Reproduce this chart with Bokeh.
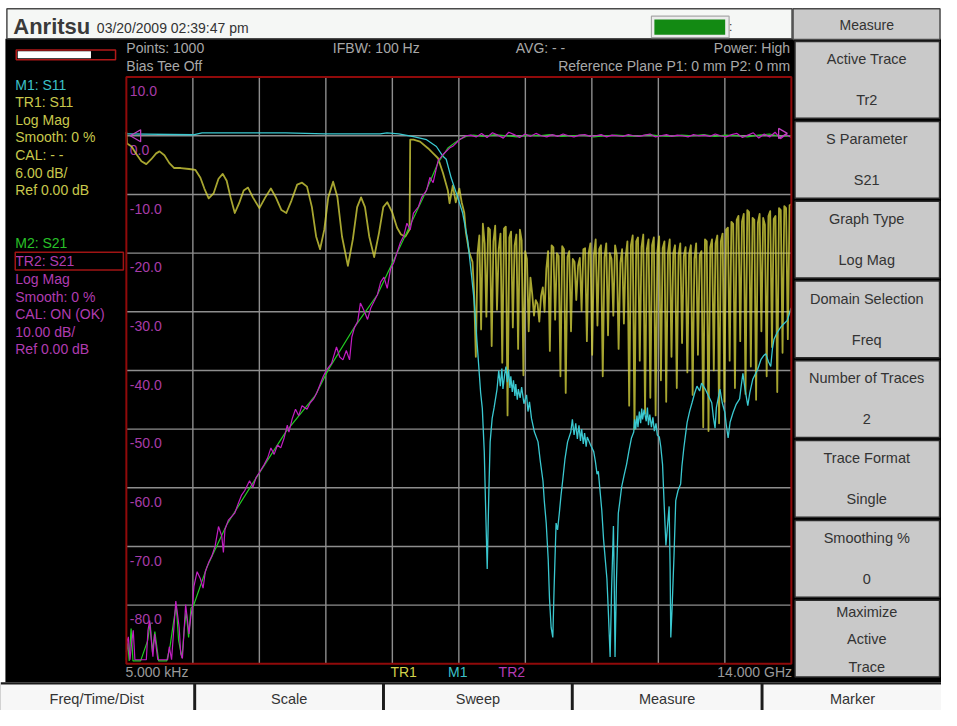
import numpy as np
from bokeh.plotting import figure
from bokeh.models import Range1d
from bokeh.core.properties import value
from bokeh.embed import file_html
from bokeh.resources import INLINE

# ---------------- sweep / scale settings ----------------
F_START_GHZ = 0.000005            # 5.000 kHz
F_STOP_GHZ = 14.0                 # 14.000 GHz
N_DIV = 10
S21_TOP_DB, S21_BOTTOM_DB = 10.0, -90.0   # TR2: 10.00 dB/div, Ref 0.00 dB
S11_TOP_DB, S11_BOTTOM_DB = 6.0, -54.0    # TR1: 6.00 dB/div, Ref 0.00 dB

y_tick_values = [10, 0, -10, -20, -30, -40, -50, -60, -70, -80]
y_tick_labels = ["10.0", "0.0", "-10.0", "-20.0", "-30.0", "-40.0", "-50.0", "-60.0", "-70.0", "-80.0"]
x_start_label = "5.000 kHz"
x_stop_label = "14.000 GHz"

# ---------------- TR1 : S11 (yellow), (GHz, dB) ----------------
tr1_pass = [
    (0.000005, 0.4), (0.014, -0.8), (0.110, -1.1), (0.213, -1.9), (0.317, -2.6), (0.420, -2.9),
    (0.524, -2.4), (0.627, -1.8), (0.698, -1.6), (0.801, -2.0), (0.905, -2.8), (1.008, -3.3),
    (1.145, -3.3), (1.319, -3.4), (1.455, -3.5), (1.559, -4.3), (1.642, -5.4), (1.733, -6.4),
    (1.836, -5.9), (1.940, -4.4), (2.029, -3.9), (2.112, -4.6), (2.194, -6.3), (2.283, -7.9),
    (2.374, -6.9), (2.470, -5.6), (2.561, -5.3), (2.664, -6.3), (2.801, -7.4), (2.925, -6.3),
    (3.043, -5.4), (3.147, -6.3), (3.265, -7.6), (3.368, -7.9), (3.478, -6.6), (3.596, -5.0),
    (3.699, -4.8), (3.803, -5.2), (3.906, -7.3), (3.995, -10.3), (4.078, -11.6), (4.167, -9.6),
    (4.250, -6.3), (4.353, -4.7), (4.444, -6.3), (4.540, -10.3), (4.664, -13.3), (4.768, -10.6),
    (4.859, -7.3), (4.941, -6.3), (5.024, -7.3), (5.113, -10.3), (5.217, -12.4), (5.320, -9.9),
    (5.409, -7.3), (5.492, -6.8), (5.595, -7.8), (5.699, -9.4), (5.782, -10.1), (5.873, -10.3),
    (5.962, -9.6), (5.976, -0.4), (6.044, -0.4), (6.183, -0.6), (6.355, -1.3), (6.459, -1.8),
    (6.562, -2.3), (6.666, -3.8), (6.769, -5.6), (6.804, -6.9), (6.873, -5.1), (6.935, -6.8),
    (7.011, -5.4), (7.059, -6.8), (7.115, -7.9), (7.148, -9.9), (7.218, -11.9), (7.287, -12.9),
]
# stop band on the sweep grid from 7.32 GHz to 14 GHz: (shoulder, dip, shoulder) per ripple
TR1_STOP_F_FIRST, TR1_STOP_F_LAST = 7.32, 14.0
tr1_stop_db = [
    -15.9, -22.6, -12.0, -10.2, -19.8, -9.0, -11.0, -18.5, -9.4, -9.6, -21.5, -10.8,
    -9.2, -17.8, -11.6, -10.0, -23.2, -9.5, -9.3, -28.6, -10.4, -9.8, -19.6, -11.2,
    -10.1, -21.8, -9.6, -10.7, -24.5, -11.8, -12.6, -20.0, -14.5, -16.2, -18.4, -16.8,
    -17.2, -19.0, -16.4, -15.5, -18.0, -13.6, -11.8, -22.0, -11.2, -11.4, -18.8, -12.0,
    -12.3, -24.6, -11.3, -11.6, -26.3, -12.4, -11.8, -20.0, -12.6, -12.9, -16.8, -13.3,
    -12.5, -17.9, -11.6, -11.5, -21.0, -12.0, -11.0, -22.4, -12.2, -10.6, -19.4, -11.6,
    -11.2, -24.6, -12.4, -11.0, -20.4, -12.0, -12.6, -18.4, -11.2, -12.2, -21.8, -13.0,
    -11.6, -19.2, -12.4, -10.8, -27.6, -11.2, -10.2, -30.0, -10.8, -10.4, -23.0, -11.4,
    -10.1, -28.4, -11.6, -10.6, -26.8, -11.2, -10.4, -28.6, -11.8, -10.3, -25.0, -11.5,
    -10.8, -27.2, -11.9, -10.6, -22.6, -12.0, -11.2, -25.8, -12.2, -11.0, -21.2, -12.3,
    -11.4, -24.2, -12.1, -11.2, -26.5, -12.6, -11.0, -22.4, -12.2, -11.8, -29.8, -10.6,
    -10.8, -30.2, -11.4, -10.6, -24.0, -11.0, -10.2, -29.4, -10.8, -10.0, -27.2, -9.6,
    -9.4, -23.0, -8.8, -9.0, -25.8, -8.6, -8.2, -21.0, -8.8, -8.0, -26.4, -7.6,
    -7.8, -23.6, -8.4, -8.6, -27.0, -8.9, -8.0, -20.0, -8.4, -9.1, -24.6, -8.2,
    -7.7, -21.6, -8.5, -8.2, -26.2, -7.4, -7.6, -22.2, -7.2, -7.4, -20.8, -7.1,
    -7.0,
]

# ---------------- M1 : S11 memory (cyan), (GHz, dB) ----------------
m1_points = [
    (0.000005, 0.2), (1.408, 0.1), (1.594, 0.3), (3.354, 0.3), (4.182, 0.2), (5.341, 0.2),
    (5.486, 0.3), (5.734, 0.2), (6.044, -0.1), (6.320, -0.4), (6.527, -1.1), (6.666, -2.1),
    (6.734, -2.4), (6.838, -4.3), (6.976, -6.3), (7.080, -7.9), (7.183, -10.6), (7.252, -13.6),
    (7.322, -16.9), (7.390, -21.6), (7.459, -26.3), (7.494, -27.9), (7.535, -32.3), (7.563, -37.9),
    (7.597, -44.3), (7.632, -36.3), (7.659, -31.3), (7.701, -28.9), (7.742, -27.8), (7.804, -25.9),
    (7.840, -24.0), (7.873, -25.6), (7.905, -23.8), (7.928, -25.9), (7.960, -24.6), (7.991, -23.6),
    (8.020, -25.2), (8.047, -23.9), (8.075, -25.8), (8.094, -24.6), (8.125, -26.2), (8.150, -25.0),
    (8.180, -26.6), (8.198, -25.4), (8.230, -27.0), (8.253, -25.9), (8.290, -26.8), (8.322, -25.7),
    (8.370, -27.4), (8.425, -26.5), (8.455, -28.2), (8.487, -27.2), (8.529, -28.9), (8.591, -30.3),
    (8.667, -31.3), (8.715, -33.3), (8.771, -35.3), (8.798, -37.3), (8.839, -39.6), (8.881, -43.3),
    (8.908, -47.3), (8.943, -50.3), (8.978, -51.3), (9.005, -46.3), (9.047, -39.6), (9.078, -40.3),
    (9.115, -38.6), (9.150, -36.8), (9.185, -35.3), (9.233, -33.1), (9.289, -31.3), (9.357, -30.3),
    (9.390, -29.0), (9.426, -30.6), (9.461, -29.4), (9.495, -31.0), (9.529, -29.6), (9.560, -31.2),
    (9.585, -30.0), (9.620, -31.5), (9.647, -30.4), (9.680, -31.8), (9.703, -30.8), (9.771, -31.6),
    (9.839, -32.3), (9.874, -33.3), (9.909, -34.6), (9.936, -34.3), (9.978, -36.6), (10.009, -38.3),
    (10.047, -41.3), (10.082, -43.3), (10.117, -45.3), (10.144, -48.3), (10.185, -53.3), (10.216, -46.3),
    (10.254, -39.9), (10.268, -44.3), (10.288, -53.3), (10.319, -45.3), (10.357, -38.6), (10.392, -37.3),
    (10.427, -35.9), (10.475, -34.8), (10.531, -33.6), (10.578, -32.3), (10.634, -30.9), (10.682, -30.3),
    (10.700, -29.0), (10.723, -30.0), (10.750, -28.6), (10.771, -29.8), (10.800, -28.2), (10.827, -29.4),
    (10.850, -27.9), (10.868, -29.0), (10.900, -28.0), (10.945, -29.2), (10.970, -27.8), (10.992, -29.6),
    (11.020, -28.5), (11.054, -29.8), (11.085, -28.8), (11.116, -30.2), (11.150, -29.4), (11.178, -30.6),
    (11.220, -30.8), (11.251, -31.8), (11.288, -33.6), (11.324, -37.9), (11.359, -41.9), (11.386, -40.3),
    (11.427, -37.9), (11.448, -44.3), (11.462, -51.3), (11.489, -48.3), (11.530, -42.9), (11.566, -37.3),
    (11.613, -36.3), (11.669, -35.6), (11.696, -33.8), (11.737, -31.9), (11.779, -30.3), (11.806, -29.3),
    (11.862, -28.1), (11.909, -27.3), (11.965, -26.3), (12.013, -25.6), (12.069, -26.1), (12.110, -25.3),
    (12.187, -25.9), (12.255, -26.6), (12.324, -27.3), (12.359, -28.8), (12.394, -29.9), (12.421, -27.8),
    (12.497, -25.9), (12.545, -27.3), (12.601, -28.3), (12.628, -29.5), (12.669, -30.9), (12.710, -29.3),
    (12.773, -28.3), (12.835, -27.5), (12.911, -26.9), (12.938, -25.8), (12.980, -24.3), (13.021, -25.8),
    (13.083, -27.6), (13.125, -26.3), (13.187, -24.9), (13.249, -24.3), (13.290, -23.9), (13.359, -22.9),
    (13.414, -22.5), (13.462, -22.3), (13.518, -23.1), (13.566, -23.6), (13.601, -21.8), (13.635, -20.8),
    (13.704, -20.1), (13.773, -19.6), (13.828, -19.3), (13.911, -18.9), (13.952, -18.3), (13.994, -17.6),
]

# ---------------- TR2 : S21 (magenta), (GHz, dB) ----------------
tr2_points = [
    (0.000005, -89.3), (0.020, -86.0), (0.041, -85.4), (0.077, -89.3), (0.110, -86.5), (0.145, -84.3),
    (0.180, -89.3), (0.213, -89.3), (0.284, -89.3), (0.420, -89.3), (0.455, -84.3), (0.491, -82.6),
    (0.524, -85.9), (0.559, -88.8), (0.594, -84.9), (0.662, -89.3), (0.725, -89.3), (0.869, -89.3),
    (0.905, -87.1), (0.952, -89.3), (1.041, -79.3), (1.112, -83.8), (1.145, -88.3), (1.180, -89.1),
    (1.248, -79.9), (1.319, -84.9), (1.356, -82.0), (1.387, -80.5), (1.422, -76.8), (1.490, -74.3),
    (1.559, -75.5), (1.615, -77.1), (1.662, -74.3), (1.733, -72.7), (1.801, -71.6), (1.869, -69.9),
    (1.940, -66.6), (2.008, -68.2), (2.043, -71.0), (2.076, -67.1), (2.147, -65.5), (2.215, -64.9),
    (2.283, -64.3), (2.354, -62.7), (2.422, -61.3), (2.490, -60.5), (2.594, -58.8), (2.664, -59.9),
    (2.733, -58.2), (2.801, -57.4), (2.904, -56.0), (2.975, -54.9), (3.043, -53.2), (3.111, -54.3),
    (3.182, -52.7), (3.250, -53.2), (3.318, -51.6), (3.389, -49.3), (3.422, -50.5), (3.492, -48.2),
    (3.561, -46.6), (3.629, -47.7), (3.699, -46.0), (3.803, -46.6), (3.871, -45.5), (3.939, -44.9),
    (4.010, -43.8), (4.078, -42.4), (4.146, -41.0), (4.217, -39.9), (4.320, -38.8), (4.424, -36.0),
    (4.492, -37.7), (4.560, -38.2), (4.631, -36.6), (4.699, -38.2), (4.747, -34.3), (4.803, -32.7),
    (4.871, -31.6), (4.927, -28.5), (5.010, -29.9), (5.078, -31.3), (5.148, -29.3), (5.217, -28.2),
    (5.285, -27.1), (5.355, -24.9), (5.424, -24.1), (5.492, -26.0), (5.562, -22.7), (5.631, -21.6),
    (5.699, -19.9), (5.769, -18.2), (5.838, -17.1), (5.906, -14.9), (5.976, -16.0), (6.044, -13.2),
    (6.148, -12.1), (6.217, -10.5), (6.320, -9.3), (6.390, -7.1), (6.459, -8.0), (6.562, -4.3),
    (6.666, -3.2), (6.804, -2.1), (6.873, -1.8), (7.011, -0.7), (7.148, 0.0),
]
TR2_FLAT_F_FIRST, TR2_FLAT_F_LAST = 7.25, 14.0
tr2_flat_db = [
    0.1, -0.2, 0.4, -0.3, 0.5, 0.1, -0.4, 0.6, 0.2, -0.3, 0.3, -0.1, 0.4, 0.0, -0.2,
    0.2, -0.1, 0.3, 0.0, -0.2, 0.1, 0.2, -0.1, 0.0, 0.2, -0.2, 0.1, 0.0, -0.1, 0.2,
    0.0, -0.1, 0.1, 0.3, -0.2, 0.0, 0.2, -0.1, 0.1, 0.0, -0.2, 0.2, 0.0, 0.1, -0.1,
    0.3, 0.0, -0.2, 0.2, 0.4, -0.3, 0.1, 0.5, -0.4, 0.3, -0.2, 0.6, -0.5, 0.2, -0.3,
]

# ---------------- M2 : S21 memory (green), (GHz, dB) ----------------
m2_points = [
    (0.000005, -88.0), (0.030, -86.5), (0.060, -89.5), (0.100, -84.0), (0.140, -89.5), (0.300, -89.5),
    (0.450, -86.0), (0.500, -83.0), (0.550, -88.0), (0.600, -84.5), (0.680, -89.5), (0.850, -89.5),
    (0.920, -87.0), (1.000, -82.5), (1.050, -80.0), (1.100, -86.0), (1.170, -89.0), (1.220, -84.0),
    (1.260, -81.0), (1.310, -85.5), (1.360, -80.5), (1.408, -80.2), (1.697, -73.5), (2.112, -66.3),
    (2.733, -58.3), (3.354, -50.5), (3.975, -44.3), (4.250, -39.9), (4.803, -32.6), (5.285, -27.1),
    (5.838, -17.6), (6.252, -10.5), (6.562, -4.6), (6.769, -2.1), (6.997, -0.7), (7.183, 0.0),
]
M2_FLAT_F_FIRST, M2_FLAT_F_LAST = 7.3, 14.0
m2_flat_db = [0.1, -0.1, 0.2, 0.0, -0.2, 0.1, 0.0, 0.2, -0.1, 0.0, 0.1, -0.2, 0.0, 0.1, 0.0,
              -0.1, 0.2, 0.0, -0.1, 0.1, 0.0, 0.2, -0.1, 0.1, 0.0, -0.2, 0.1, 0.3, -0.1, 0.0]

# ---------------- screen texts ----------------
logo_text = "Anritsu"
date_text = "03/20/2009 02:39:47 pm"
status_left = ["Points: 1000", "Bias Tee Off"]
status_mid = ["IFBW: 100 Hz", "AVG: - -"]
status_right = ["Power: High", "Reference Plane P1: 0 mm P2: 0 mm"]
tr1_info = ["TR1: S11", "Log Mag", "Smooth: 0 %", "CAL: - -", "6.00 dB/", "Ref 0.00 dB"]
tr2_info = ["TR2: S21", "Log Mag", "Smooth: 0 %", "CAL: ON (OK)", "10.00 dB/", "Ref 0.00 dB"]
menu_title = "Measure"
menu_keys = [("Active Trace", "Tr2"), ("S Parameter", "S21"), ("Graph Type", "Log Mag"),
             ("Domain Selection", "Freq"), ("Number of Traces", "2"), ("Trace Format", "Single"),
             ("Smoothing %", "0")]
menu_last_key = ["Maximize", "Active", "Trace"]
bottom_keys = ["Freq/Time/Dist", "Scale", "Sweep", "Measure", "Marker"]
trace_tags = [("TR1", "#d2d24a"), ("M1", "#3cc0c8"), ("TR2", "#b43cb4")]

# ---------------- layout (reference screen pixels) ----------------
FONT = "Liberation Sans"
W_REF, H_REF = 957, 726
PX_L, PX_R, PY_T, PY_B = 128.0, 804.3, 78.3, 678.3

fpp = (F_STOP_GHZ - F_START_GHZ) / (PX_R - PX_L)
s21pp = (S21_TOP_DB - S21_BOTTOM_DB) / (PY_B - PY_T)
s11pp = (S11_TOP_DB - S11_BOTTOM_DB) / (PY_B - PY_T)

p = figure(width=941, height=710, x_range=Range1d(0, W_REF), y_range=Range1d(H_REF, 0),
           output_backend="svg", toolbar_location=None, min_border=0,
           x_axis_location=None, y_axis_location=None,
           background_fill_color="white", border_fill_color="white", outline_line_color=None)
p.xgrid.grid_line_color = None
p.ygrid.grid_line_color = None
p.extra_x_ranges = {"f": Range1d(F_START_GHZ - PX_L * fpp, F_STOP_GHZ + (W_REF - PX_R) * fpp)}
p.extra_y_ranges = {
    "s21": Range1d(S21_BOTTOM_DB - (H_REF - PY_B) * s21pp, S21_TOP_DB + PY_T * s21pp),
    "s11": Range1d(S11_BOTTOM_DB - (H_REF - PY_B) * s11pp, S11_TOP_DB + PY_T * s11pp),
}


def box(l, r, t, b, fill, line=None, lw=1.0):
    p.quad(left=[l], right=[r], top=[t], bottom=[b], fill_color=fill,
           line_color=line, line_width=lw)


def txt(xs, ys, texts, color, size=14, align="left", style="normal", **kw):
    p.text(x=xs, y=ys, text=texts, text_color=color, text_font=value(FONT),
           text_font_size=f"{size}px", text_align=align, text_baseline="middle",
           text_font_style=style, **kw)


# ---- screen chrome ----
box(5, W_REF, 39, 697, "black")
box(6.5, 805, 8.5, 39, "#f5f7f5", "#4a4a4a", 1.5)
txt([13], [27], [logo_text], "#3a3a3a", 22, style="bold")
txt([98], [28], [date_text], "#333333", 14)
box(662, 741, 16, 38, "#ececec", "#a8a8a8", 1.2)
box(665, 737, 19.5, 35, "#138a13")
txt([741], [27], [":"], "#333333", 12)

box(806, 955.5, 8.5, 40, "#cacaca", "#4a4a4a", 1.5)
txt([881], [25], [menu_title], "#333333", 14, align="center")
BTN_TOP, BTN_STEP, BTN_H = 42.0, 81.6, 78.5
for i in range(8):
    top = BTN_TOP + BTN_STEP * i
    box(808, 955, top, top + BTN_H, "#c9c9c9", "#2a2a2a", 1.5)
for i, (k1, k2) in enumerate(menu_keys):
    top = BTN_TOP + BTN_STEP * i
    txt([881, 881], [top + 18, top + 60], [k1, k2], "#333333", 14.5, align="center")
top = BTN_TOP + BTN_STEP * 7
txt([881] * 3, [top + 12, top + 40, top + 68], menu_last_key, "#333333", 14.5, align="center")

box(0, W_REF, 697, H_REF, "#1c1c1c")
key_edges = [(0, 196), (199, 388), (391, 580), (583, 773), (776, W_REF)]
for (l, r), k in zip(key_edges, bottom_keys):
    box(l, r, 699.5, H_REF, "#f7f7f7")
    txt([(l + r) / 2], [714], [k], "#333333", 14.5, align="center")

box(16, 117, 50.5, 60.5, None, "#b01818", 1.5)
box(17.5, 92, 52, 59, "white")

txt([128, 128], [49, 67], status_left, "#a8a8a8", 14)
txt([338, 524], [49, 49], status_mid, "#a8a8a8", 14)
txt([803, 803], [49, 67], status_right, "#a8a8a8", 14, align="right")

LINE_H = 18.0
txt([15], [86.7], ["M1: S11"], "#3cc0c8", 14)
txt([15] * 6, [104 + LINE_H * i for i in range(6)], tr1_info, "#c8c84c", 14)
txt([15], [248], ["M2: S21"], "#28c028", 14)
txt([15] * 6, [266.7 + LINE_H * i for i in range(6)], tr2_info, "#b03cb0", 14)
box(15, 125, 257.5, 275.5, None, "#a01414", 1.5)

txt([127], [687], [x_start_label], "#9a9a9a", 14)
txt([805], [687], [x_stop_label], "#9a9a9a", 14, align="right")
for xx, (t, c) in zip([410, 465, 520], trace_tags):
    txt([xx], [687], [t], c, 14, align="center")

# ---- graticule ----
f_ticks = np.linspace(F_START_GHZ, F_STOP_GHZ, N_DIV + 1)
db_ticks = np.linspace(S21_TOP_DB, S21_BOTTOM_DB, N_DIV + 1)
p.segment(x0=f_ticks[1:-1], x1=f_ticks[1:-1], y0=S21_TOP_DB, y1=S21_BOTTOM_DB,
          x_range_name="f", y_range_name="s21", line_color="#8e8e8e", line_width=1.4)
p.segment(x0=F_START_GHZ, x1=F_STOP_GHZ, y0=db_ticks[1:-1], y1=db_ticks[1:-1],
          x_range_name="f", y_range_name="s21", line_color="#8e8e8e", line_width=1.4)

txt([F_START_GHZ + 3.5 * fpp] * len(y_tick_values), [v - 14.4 * s21pp for v in y_tick_values],
    y_tick_labels, "#a83ca8", 14, x_range_name="f", y_range_name="s21")

# ---- traces ----
tr1_f = [f for f, _ in tr1_pass] + list(np.linspace(TR1_STOP_F_FIRST, TR1_STOP_F_LAST, len(tr1_stop_db)))
tr1_db = [d for _, d in tr1_pass] + tr1_stop_db
p.line(tr1_f, tr1_db, x_range_name="f", y_range_name="s11", line_color="#d6d43e",
       line_width=1.8, line_alpha=0.78, line_join="round")

p.line([f for f, _ in m1_points], [d for _, d in m1_points], x_range_name="f", y_range_name="s11",
       line_color="#3ac8d0", line_width=1.3)

m2_f = [f for f, _ in m2_points] + list(np.linspace(M2_FLAT_F_FIRST, M2_FLAT_F_LAST, len(m2_flat_db)))
m2_db = [d for _, d in m2_points] + m2_flat_db
p.line(m2_f, m2_db, x_range_name="f", y_range_name="s21", line_color="#22cc22", line_width=1.2)

tr2_f = [f for f, _ in tr2_points] + list(np.linspace(TR2_FLAT_F_FIRST, TR2_FLAT_F_LAST, len(tr2_flat_db)))
tr2_db = [d for _, d in tr2_points] + tr2_flat_db
p.line(tr2_f, tr2_db, x_range_name="f", y_range_name="s21", line_color="#c21ec2", line_width=1.2)

# reference-level markers
p.scatter([F_START_GHZ + 11 * fpp], [0.0], marker="triangle", angle=np.pi / 2, size=12,
          fill_color=None, line_color="#c040c0", line_width=1.3, x_range_name="f", y_range_name="s21")
p.scatter([F_STOP_GHZ - 10 * fpp], [0.4], marker="triangle", angle=-np.pi / 2, size=10,
          fill_color=None, line_color="#c040c0", line_width=1.3, x_range_name="f", y_range_name="s21")

# ---- graticule frame ----
p.quad(left=[F_START_GHZ], right=[F_STOP_GHZ], top=[S21_TOP_DB], bottom=[S21_BOTTOM_DB],
       fill_color=None, line_color="#900a0a", line_width=2, x_range_name="f", y_range_name="s21")

open("out.html", "w").write(file_html(p, INLINE))
